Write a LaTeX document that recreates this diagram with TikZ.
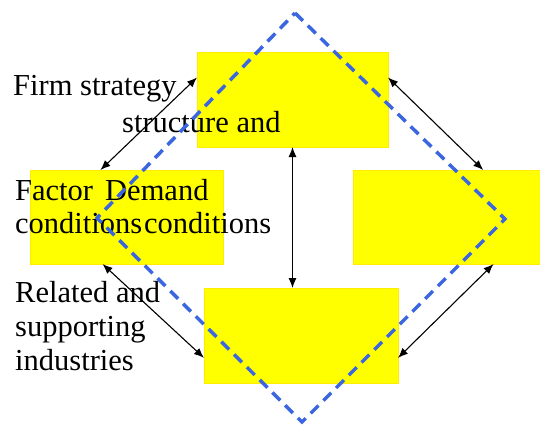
\documentclass[tikz,border=0pt]{standalone}
\usepackage{fontspec}
\setmainfont{Liberation Serif}
\usetikzlibrary{arrows.meta}
\definecolor{boxyellow}{HTML}{FFFF00}
\definecolor{diamondblue}{HTML}{3A66E0}
\tikzset{
	feld/.style={fill=boxyellow, draw=boxyellow!85!orange, line width=0.6pt, inner sep=0pt, outer sep=0pt, minimum width=#1},
	feld/.default=192pt,
	beschr/.style={anchor=base west, inner sep=0pt, font=\fontsize{30.5}{34}\selectfont},
	pfeil/.style={line width=1.1pt, {Latex[length=10pt,width=8pt]}-{Latex[length=10pt,width=8pt]}},
	raute/.style={diamondblue, line width=3.5pt, dash pattern=on 11pt off 7pt}
}
\begin{document}
\begin{tikzpicture}[x=1pt, y=-1pt]
	\useasboundingbox (0,0) rectangle (540,424);
	
	%Felder
	\node[feld=191pt, minimum height=95pt] (strategy) at (292.5, 99.5) {};
	\node[feld=193pt, minimum height=94pt] (factor) at (126.5, 217) {};
	\node[feld=187pt, minimum height=94pt] (demand) at (446.5, 217) {};
	\node[feld=194pt, minimum height=95pt] (related) at (301, 335.5) {};
	
	%Beschriftung
	\node[beschr] (firm) at (13, 95) {Firm strategy};
	\node[beschr] (structure) at (122, 132) {structure and};
	\node[beschr] (factortxt) at (15, 200) {Factor};
	\node[beschr] (demandtxt) at (105, 200) {Demand};
	\node[beschr] (condl) at (15, 233) {conditions};
	\node[beschr] (condr) at (144, 233) {conditions};
	\node[beschr] (relatedtxt) at (15, 302) {Related and};
	\node[beschr] (supporting) at (15, 336) {supporting};
	\node[beschr] (industries) at (15, 370) {industries};
	
	%Pfeile
	\draw[pfeil] (factor.119) -- (strategy.167);
	\draw[pfeil] (strategy.13) -- (demand.52);
	\draw[pfeil] (strategy.south) -- (strategy.south |- related.north);
	\draw[pfeil] (factor.243) -- (related.193);
	\draw[pfeil] (demand.315) -- (related.347);
	
	%Raute
	\coordinate (oben) at (295, 13);
	\coordinate (rechts) at (505, 219);
	\coordinate (unten) at (302, 422);
	\coordinate (links) at (97, 218);
	\draw[raute] (oben) -- (rechts) -- (unten) -- (links) -- cycle;
\end{tikzpicture}
\end{document}
